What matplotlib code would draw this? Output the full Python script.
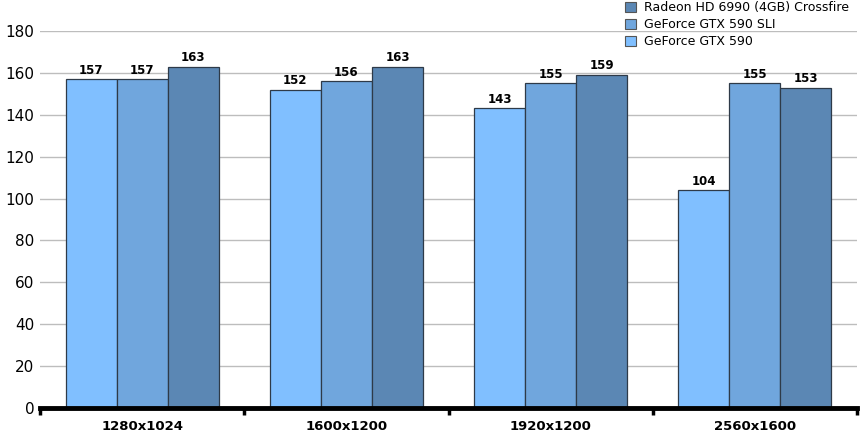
import numpy as np
import matplotlib
matplotlib.use("Agg")
import matplotlib.pyplot as plt
from matplotlib.patches import Patch

resolutions = ["1280x1024", "1600x1200", "1920x1200", "2560x1600"]
series_names = ["GeForce GTX 590", "GeForce GTX 590 SLI", "Radeon HD 6990 (4GB) Crossfire"]
gtx590 = [157, 152, 143, 104]
gtx590_sli = [157, 156, 155, 155]
hd6990_cf = [163, 163, 159, 153]
colors = ["#80BFFF", "#70A6DD", "#5B87B4"]
yticks = [0, 20, 40, 60, 80, 100, 120, 140, 160, 180]

plt.rcParams['font.family'] = ['DejaVu Sans']

fig = plt.figure(figsize=(8.63, 4.42), dpi=100)
ax = fig.add_axes([40/863, 1 - 408/442, 817/863, 377/442])

x = np.arange(len(resolutions)) + 0.5
w = 0.25
for i, (vals, c) in enumerate(zip([gtx590, gtx590_sli, hd6990_cf], colors)):
    bars = ax.bar(x + (i - 1) * w, vals, w, color=c, edgecolor="#2E3A48",
                  linewidth=0.9, zorder=2)
    for b, v in zip(bars, vals):
        ax.text(b.get_x() + b.get_width() / 2, v + 1.2, str(v), ha="center",
                va="bottom", fontsize=8.5, fontweight="bold", zorder=3)

ax.set_xlim(0, 4)
ax.set_ylim(0, 180)
ax.set_yticks(yticks)
ax.set_yticklabels([str(t) for t in yticks], fontsize=11)
ax.yaxis.grid(True, color="#BDBDBD", linewidth=1, zorder=0)
ax.tick_params(axis="y", length=0, pad=4)

# group boundary ticks on x axis
ax.set_xticks([0, 1, 2, 3, 4])
ax.set_xticklabels([])
ax.set_xticks(x, minor=True)
ax.set_xticklabels(resolutions, minor=True, fontsize=9.5, fontweight="bold")
ax.tick_params(axis="x", which="major", direction="out", length=5, width=2.5, color="black")
ax.tick_params(axis="x", which="minor", length=0, pad=9)

for s in ["top", "right", "left"]:
    ax.spines[s].set_visible(False)
ax.spines["bottom"].set_linewidth(3.5)
ax.spines["bottom"].set_zorder(4)
ax.set_axisbelow(True)

handles = [Patch(facecolor=colors[i], edgecolor="#555555", linewidth=0.8, label=series_names[i])
           for i in [2, 1, 0]]
fig.legend(handles=handles, loc="upper left", bbox_to_anchor=(620/863, 1.008),
           frameon=False, fontsize=9, handlelength=0.85, handleheight=0.85,
           handletextpad=0.7, labelspacing=0.32, borderaxespad=0)

fig.savefig("out.png", dpi=100)
